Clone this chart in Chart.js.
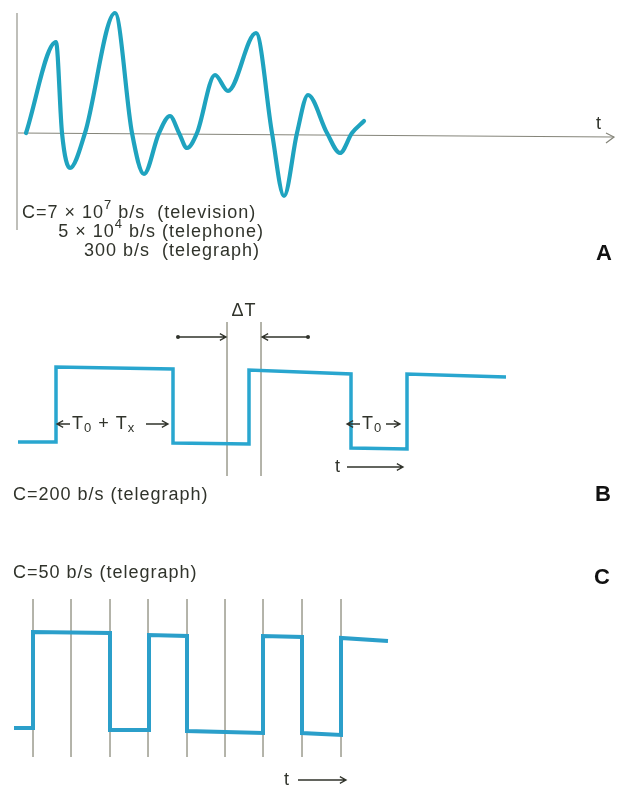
<!DOCTYPE html>
<html lang="en">
<head>
<meta charset="UTF-8">
<title>Signal waveforms</title>
<script src="https://cdn.jsdelivr.net/npm/chart.js"></script>
<style>
    body { margin: 0; background: #fff; }
    .panel { position: absolute; left: 0; width: 624px; }
    #panelA { top: 0; height: 270px; }
    #panelB { top: 270px; height: 250px; }
    #panelC { top: 540px; height: 250px; }
</style>
</head>
<body>
<div class="panel" id="panelA"><canvas id="chartA" width="624" height="270"></canvas></div>
<div class="panel" id="panelB"><canvas id="chartB" width="624" height="250"></canvas></div>
<div class="panel" id="panelC"><canvas id="chartC" width="624" height="250"></canvas></div>
<script>
// Panel A - analog signal, amplitude measured from the t axis
const waveA_t = [26, 56, 62, 70, 85, 115, 132, 144, 159, 170, 179, 187, 197, 215, 228, 256, 272, 284, 297, 308, 327, 340, 352, 364];
const waveA_v = [0, 91, 0, -35, 0, 120, 0, -41, 0, 17, 0, -15, 0, 58, 42, 100, 0, -63, 0, 38, 0, -20, 0, 12];
const axisA_t = [18, 614];
const axisA_v = [0, -4];
const yAxisA_t = [17, 17];
const yAxisA_v = [120, -97];

// Panel B - 200 b/s telegraph signal (corner points)
const waveB_t = [18, 56, 56, 173, 173, 249, 249, 351, 351, 407, 407, 506];
const waveB_v = [1, 1, 76, 74, 0, -1, 73, 69, -5, -6, 69, 66];
const markB_t = [227, 261];
const markB_range = [121, -33];

// Panel C - 50 b/s telegraph signal and clock marks
const waveC_t = [14, 33, 33, 110, 110, 149, 149, 187, 187, 263, 263, 302, 302, 341, 341, 388];
const waveC_v = [2, 2, 98, 97, 0, 0, 95, 94, -1, -3, 94, 93, -3, -5, 92, 89];
const clockC_t = [33, 71, 110, 148, 187, 225, 263, 302, 341];
const clockC_range = [131, -27];

const INK = '#30332b';
const WAVE = '#1fa3bf';
const THIN = '#aaaa9e';
const FONT = '"Liberation Sans", Arial, sans-serif';

function pts(ts, vs) {
    return ts.map((t, i) => ({ x: t, y: vs[i] }));
}

function lineSet(data, color, width, extra) {
    return Object.assign({
        data: data,
        showLine: true,
        borderColor: color,
        borderWidth: width,
        pointRadius: 0,
        fill: false,
        clip: false,
        borderJoinStyle: 'miter',
        borderCapStyle: 'butt'
    }, extra || {});
}

// draws text made of parts: [text, 'sup' | 'sub' | '']
function drawRich(ctx, parts, x, y, align, size, weight) {
    const base = (weight || '') + ' ' + size + 'px ' + FONT;
    const small = (weight || '') + ' ' + Math.round(size * 0.7) + 'px ' + FONT;
    ctx.letterSpacing = weight ? '0px' : '1px';
    let widths = parts.map(p => {
        ctx.font = p[1] ? small : base;
        return ctx.measureText(p[0]).width;
    });
    let total = widths.reduce((a, b) => a + b, 0);
    let cx = align === 'right' ? x - total : align === 'center' ? x - total / 2 : x;
    ctx.textBaseline = 'middle';
    ctx.textAlign = 'left';
    parts.forEach((p, i) => {
        ctx.font = p[1] ? small : base;
        let dy = p[1] === 'sup' ? -size * 0.42 : p[1] === 'sub' ? size * 0.25 : 0;
        ctx.fillText(p[0], cx, y + dy);
        cx += widths[i];
    });
    ctx.letterSpacing = '0px';
}

function arrow(ctx, x1, y1, x2, y2, dot) {
    const a = Math.atan2(y2 - y1, x2 - x1);
    const h = 7;
    ctx.beginPath();
    ctx.moveTo(x1, y1);
    ctx.lineTo(x2, y2);
    ctx.moveTo(x2 - h * Math.cos(a - 0.5), y2 - h * Math.sin(a - 0.5));
    ctx.lineTo(x2, y2);
    ctx.lineTo(x2 - h * Math.cos(a + 0.5), y2 - h * Math.sin(a + 0.5));
    ctx.stroke();
    if (dot) {
        ctx.beginPath();
        ctx.arc(x1, y1, 2, 0, Math.PI * 2);
        ctx.fill();
    }
}

// annotations in data units: {text:[parts], t, v, align, size, weight} or {arrow:[t1,v1,t2,v2], dot}
const notesPlugin = {
    id: 'notes',
    afterDatasetsDraw(chart) {
        const notes = chart.options.plugins.notes.items;
        const ctx = chart.ctx;
        const sx = chart.scales.x, sy = chart.scales.y;
        ctx.save();
        ctx.fillStyle = INK;
        ctx.strokeStyle = INK;
        ctx.lineWidth = 1.3;
        notes.forEach(n => {
            if (n.arrow) {
                const a = n.arrow;
                arrow(ctx, sx.getPixelForValue(a[0]), sy.getPixelForValue(a[1]),
                    sx.getPixelForValue(a[2]), sy.getPixelForValue(a[3]), n.dot);
            } else {
                ctx.fillStyle = n.color || INK;
                drawRich(ctx, n.text, sx.getPixelForValue(n.t), sy.getPixelForValue(n.v),
                    n.align || 'left', n.size || 18, n.weight);
            }
        });
        ctx.restore();
    }
};

function makeChart(id, datasets, yMin, yMax, notes) {
    return new Chart(document.getElementById(id), {
        type: 'scatter',
        data: { datasets: datasets },
        options: {
            responsive: false,
            animation: false,
            events: [],
            layout: { padding: 0 },
            elements: { line: { tension: 0 } },
            scales: {
                x: { type: 'linear', min: 0, max: 624, display: false },
                y: { type: 'linear', min: yMin, max: yMax, display: false }
            },
            plugins: {
                legend: { display: false },
                tooltip: { enabled: false },
                notes: { items: notes }
            }
        },
        plugins: [notesPlugin]
    });
}

// ---- Panel A
makeChart('chartA', [
    lineSet(pts(waveA_t, waveA_v), WAVE, 4.2, { cubicInterpolationMode: 'monotone', borderCapStyle: 'round', borderJoinStyle: 'round' }),
    lineSet(pts(axisA_t, axisA_v), '#85857a', 1.2),
    lineSet(pts([606, 614, 606], [0, -4, -10]), '#85857a', 1.2),
    lineSet(pts(yAxisA_t, yAxisA_v), '#95958c', 1.2)
], -137, 133, [
    { text: [['t', '']], t: 596, v: 9 },
    { text: [['C=7 × 10', ''], ['7', 'sup'], [' b/s  (television)', '']], t: 22, v: -80 },
    { text: [['5 × 10', ''], ['4', 'sup'], [' b/s (telephone)', '']], t: 264, v: -99, align: 'right' },
    { text: [['300 b/s  (telegraph)', '']], t: 260, v: -118, align: 'right' },
    { text: [['A', '']], t: 604, v: -121, align: 'center', size: 22, weight: 'bold', color: '#111' }
]);

// ---- Panel B
makeChart('chartB', [
    lineSet(pts(waveB_t, waveB_v), '#29a6cf', 3.5),
    lineSet(pts([markB_t[0], markB_t[0]], markB_range), THIN, 1),
    lineSet(pts([markB_t[1], markB_t[1]], markB_range), THIN, 1)
], -77, 173, [
    { text: [['ΔT', '']], t: 244, v: 132, align: 'center' },
    { arrow: [178, 106, 226, 106], dot: true },
    { arrow: [308, 106, 262, 106], dot: true },
    { arrow: [70, 19, 57, 19] },
    { text: [['T', ''], ['0', 'sub'], [' + T', ''], ['x', 'sub']], t: 72, v: 19 },
    { arrow: [146, 19, 168, 19] },
    { arrow: [360, 19, 347, 19] },
    { text: [['T', ''], ['0', 'sub']], t: 362, v: 19 },
    { arrow: [386, 19, 400, 19] },
    { text: [['t', '']], t: 335, v: -24 },
    { arrow: [347, -24, 403, -24] },
    { text: [['C=200 b/s (telegraph)', '']], t: 13, v: -52 },
    { text: [['B', '']], t: 603, v: -52, align: 'center', size: 22, weight: 'bold', color: '#111' }
]);

// ---- Panel C
const clockSets = clockC_t.map(t => lineSet(pts([t, t], clockC_range), THIN, 1));
makeChart('chartC', [
    lineSet(pts(waveC_t, waveC_v), '#2b9fca', 4)
].concat(clockSets), -60, 190, [
    { text: [['C=50 b/s (telegraph)', '']], t: 13, v: 157 },
    { text: [['C', '']], t: 602, v: 152, align: 'center', size: 22, weight: 'bold', color: '#111' },
    { text: [['t', '']], t: 284, v: -50 },
    { arrow: [298, -50, 346, -50] }
]);
</script>
</body>
</html>
